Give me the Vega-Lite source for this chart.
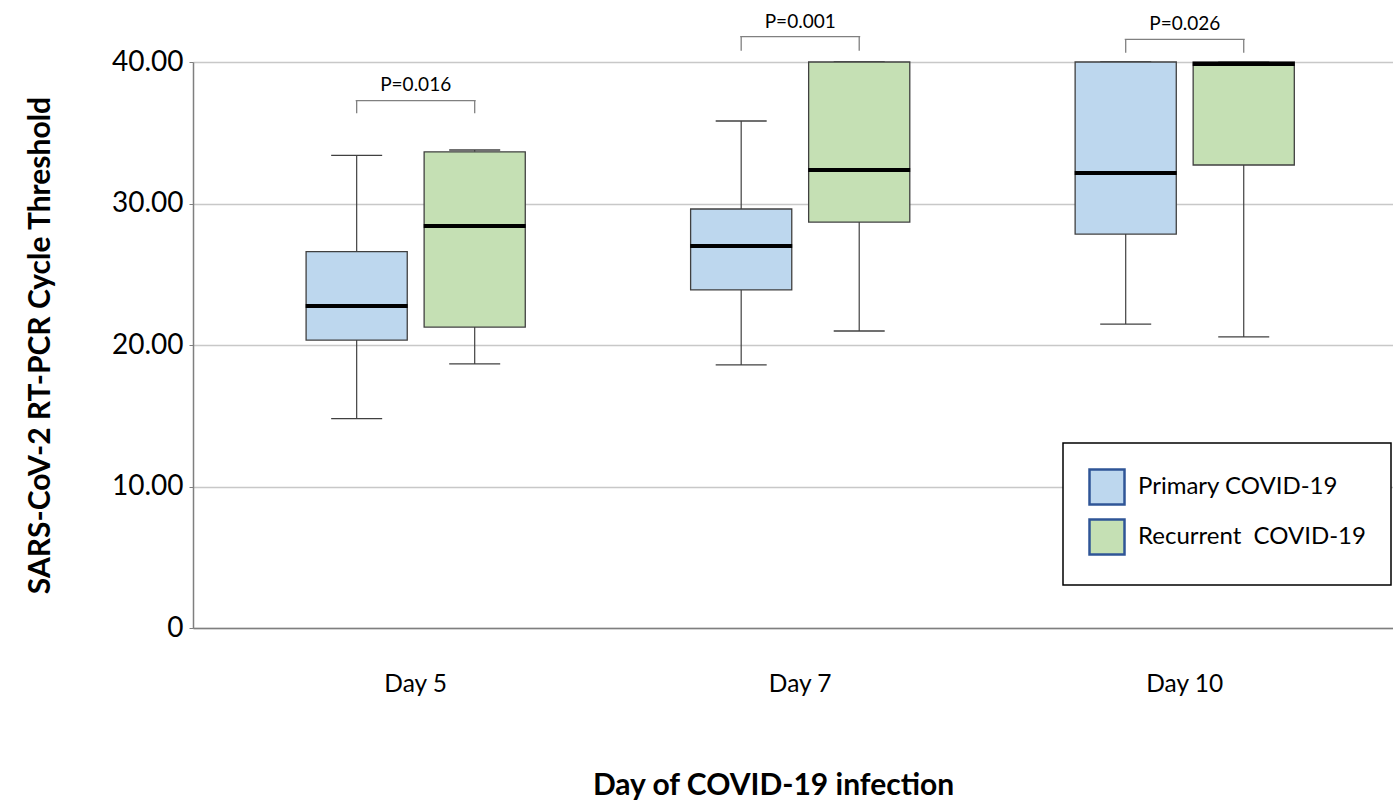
{
  "$schema": "https://vega.github.io/schema/vega-lite/v6.json",
  "width": 1200,
  "height": 566,
  "autosize": "none",
  "padding": {"left": 193, "top": 62, "right": 0, "bottom": 174},
  "background": "white",
  "config": {
    "font": "Lato",
    "view": {"stroke": null},
    "axis": {"labelFont": "Lato", "titleFont": "Lato", "labelColor": "black", "titleColor": "black"}
  },
  "datasets": {
    "boxes": [
      {"day": "Day 5", "group": "Primary COVID-19", "low": 14.8, "q1": 20.35, "median": 22.75, "q3": 26.6, "high": 33.4},
      {"day": "Day 5", "group": "Recurrent  COVID-19", "low": 18.66, "q1": 21.27, "median": 28.41, "q3": 33.65, "high": 33.78},
      {"day": "Day 7", "group": "Primary COVID-19", "low": 18.59, "q1": 23.89, "median": 27.0, "q3": 29.61, "high": 35.83},
      {"day": "Day 7", "group": "Recurrent  COVID-19", "low": 20.99, "q1": 28.69, "median": 32.37, "q3": 40.0, "high": 40.0},
      {"day": "Day 10", "group": "Primary COVID-19", "low": 21.48, "q1": 27.84, "median": 32.16, "q3": 40.0, "high": 40.0},
      {"day": "Day 10", "group": "Recurrent  COVID-19", "low": 20.57, "q1": 32.72, "median": 39.86, "q3": 40.0, "high": 40.0}
    ],
    "legs": [
      {"day": "Day 5", "group": "Primary COVID-19", "top": 37.27, "bottom": 36.37},
      {"day": "Day 5", "group": "Recurrent  COVID-19", "top": 37.27, "bottom": 36.37},
      {"day": "Day 7", "group": "Primary COVID-19", "top": 41.79, "bottom": 40.8},
      {"day": "Day 7", "group": "Recurrent  COVID-19", "top": 41.79, "bottom": 40.8},
      {"day": "Day 10", "group": "Primary COVID-19", "top": 41.6, "bottom": 40.65},
      {"day": "Day 10", "group": "Recurrent  COVID-19", "top": 41.6, "bottom": 40.65}
    ],
    "pvals": [
      {"day": "Day 5", "p": "P=0.016", "top": 37.27, "labelY": 38.37},
      {"day": "Day 7", "p": "P=0.001", "top": 41.79, "labelY": 42.85},
      {"day": "Day 10", "p": "P=0.026", "top": 41.6, "labelY": 42.7}
    ]
  },
  "encoding": {
    "x": {
      "field": "day", "type": "nominal",
      "sort": ["Day 5", "Day 7", "Day 10"],
      "scale": {"paddingInner": 0.43, "paddingOuter": 0.2754, "align": 0.534},
      "axis": {
        "title": "Day of COVID-19 infection",
        "titleFontSize": 30, "titleFontWeight": "bold", "titlePadding": 75, "titleX": 580,
        "labelFontSize": 24.5, "labelPadding": 44, "labelAngle": 0,
        "ticks": false, "domainColor": "#7f7f7f", "domainWidth": 1.5
      }
    }
  },
  "layer": [
    {
      "data": {"name": "boxes"},
      "mark": {"type": "rule", "color": "#404040", "strokeWidth": 1.2},
      "encoding": {
        "xOffset": {
          "field": "group", "type": "nominal",
          "sort": ["Primary COVID-19", "Recurrent  COVID-19"],
          "scale": {"paddingInner": 0.143, "paddingOuter": 0}
        },
        "y": {"field": "low", "type": "quantitative",
          "scale": {"domain": [0, 40], "nice": false, "zero": true},
          "axis": {
            "title": "SARS-CoV-2 RT-PCR Cycle Threshold",
            "titleFontSize": 30, "titleFontWeight": "bold", "titlePadding": 56,
            "values": [0, 10, 20, 30, 40],
            "labelExpr": "datum.value == 0 ? '0' : format(datum.value, '.2f')",
            "labelFontSize": 28, "labelPadding": 6,
            "tickSize": 4, "tickColor": "#7f7f7f", "domainColor": "#7f7f7f", "domainWidth": 1.5,
            "grid": true, "gridColor": "#c8c8c8", "gridWidth": 1.3
          }
        },
        "y2": {"field": "q1"}
      }
    },
    {
      "data": {"name": "boxes"},
      "mark": {"type": "rule", "color": "#404040", "strokeWidth": 1.2},
      "encoding": {
        "xOffset": {"field": "group", "type": "nominal"},
        "y": {"field": "q3", "type": "quantitative"},
        "y2": {"field": "high"}
      }
    },
    {
      "data": {"name": "boxes"},
      "mark": {"type": "tick", "color": "#404040", "size": 51, "thickness": 1.3, "opacity": 1},
      "encoding": {
        "xOffset": {"field": "group", "type": "nominal"},
        "y": {"field": "low", "type": "quantitative"}
      }
    },
    {
      "data": {"name": "boxes"},
      "mark": {"type": "tick", "color": "#404040", "size": 51, "thickness": 1.3, "opacity": 1},
      "encoding": {
        "xOffset": {"field": "group", "type": "nominal"},
        "y": {"field": "high", "type": "quantitative"}
      }
    },
    {
      "data": {"name": "boxes"},
      "mark": {"type": "bar", "stroke": "#404040", "strokeWidth": 1.3, "opacity": 1},
      "encoding": {
        "xOffset": {"field": "group", "type": "nominal"},
        "y": {"field": "q1", "type": "quantitative"},
        "y2": {"field": "q3"},
        "color": {
          "field": "group", "type": "nominal",
          "sort": ["Primary COVID-19", "Recurrent  COVID-19"],
          "scale": {"range": ["#bdd7ee", "#c5e0b4"]},
          "legend": {
            "title": null,
            "orient": "none", "legendX": 870, "legendY": 381,
            "symbolType": "square", "symbolSize": 1225,
            "symbolStrokeColor": "#2f5597", "symbolStrokeWidth": 2.5,
            "labelFontSize": 24, "labelFont": "Lato", "labelColor": "black", "labelLimit": 500,
            "labelOffset": 12, "rowPadding": 4,
            "padding": 25, "strokeColor": "black", "fillColor": "white",
            "symbolOpacity": 1,
            "encode": {
              "symbols": {"update": {"stroke": {"value": "#2f5597"}, "strokeWidth": {"value": 2.5}}},
              "labels": {"update": {"text": {"signal": "replace(datum.label, '  ', '\u00a0\u00a0')"}}},
              "legend": {"update": {"strokeWidth": {"value": 1.5}}}
            }
          }
        }
      }
    },
    {
      "data": {"name": "boxes"},
      "mark": {"type": "tick", "color": "black", "size": 102, "thickness": 4, "opacity": 1},
      "encoding": {
        "xOffset": {"field": "group", "type": "nominal"},
        "y": {"field": "median", "type": "quantitative"}
      }
    },
    {
      "data": {"name": "legs"},
      "mark": {"type": "rule", "color": "#808080", "strokeWidth": 1.3},
      "encoding": {
        "xOffset": {"field": "group", "type": "nominal"},
        "y": {"field": "top", "type": "quantitative"},
        "y2": {"field": "bottom"}
      }
    },
    {
      "data": {"name": "pvals"},
      "mark": {"type": "tick", "color": "#808080", "size": 120, "thickness": 1.3, "opacity": 1},
      "encoding": {
        "y": {"field": "top", "type": "quantitative"}
      }
    },
    {
      "data": {"name": "pvals"},
      "mark": {"type": "text", "fontSize": 19, "font": "Lato", "color": "black", "baseline": "middle"},
      "encoding": {
        "y": {"field": "labelY", "type": "quantitative"},
        "text": {"field": "p"}
      }
    }
  ]
}
